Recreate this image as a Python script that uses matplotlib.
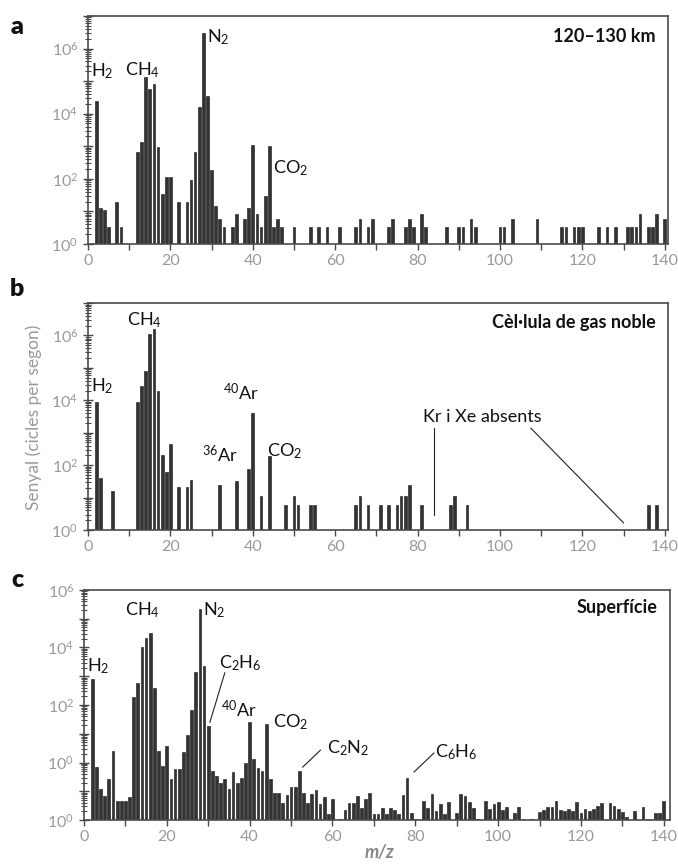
import matplotlib
matplotlib.use("Agg")
import matplotlib.pyplot as plt
from matplotlib.ticker import LogLocator, NullFormatter

plt.rcParams['font.family'] = ['Lato', 'DejaVu Sans']
plt.rcParams['mathtext.fontset'] = 'custom'
plt.rcParams['mathtext.rm'] = 'Lato'
plt.rcParams['mathtext.it'] = 'Lato:italic'
plt.rcParams['mathtext.bf'] = 'Lato:bold'

# panel a: 120-130 km
a_mz = [2, 3, 4, 5, 7, 8, 12, 13, 14, 15, 16, 17, 18, 19, 20, 22, 24, 25, 26, 27, 28, 29, 30,
        31, 32, 33, 35, 36, 38, 39, 40, 41, 42, 43, 44, 45, 46, 47, 50, 54, 56, 58,
        61, 65, 66, 68, 69, 73, 74, 77, 78, 79, 81, 82, 87, 90, 91, 93, 94, 100, 101, 103,
        109, 115, 116, 118, 119, 120, 124, 126, 128, 131, 132, 133, 134, 136, 137, 138, 140]
a_val = [2.5e4, 12, 10, 2.3, 19, 2.3, 650, 1350, 1.3e5, 5.8e4, 8.3e4, 950, 33, 112, 112, 19, 19, 89, 680,
         1.6e4, 3.1e6, 3.4e4, 190, 14, 4.9, 2.4, 2.4, 7.4, 4.9, 12, 1070, 7.4, 2.4, 29, 1000, 2.4, 4.9, 2.4,
         2.4, 2.4, 2.4, 2.4,
         2.3, 2.3, 4.9, 2.3, 4.9, 2.3, 4.9, 2.3, 4.9, 2.3, 7.4, 2.3, 2.3, 2.3, 2.3, 4.9, 2.3, 2.3, 2.3, 4.9,
         4.9, 2.3, 2.3, 2.3, 2.3, 2.3, 2.3, 2.3, 2.3, 2.3, 2.3, 2.3, 7.4, 2.3, 2.3, 7.4, 4.9]

# panel b: noble gas cell
b_mz = [2, 3, 6, 12, 13, 14, 15, 16, 17, 18, 19, 20, 22, 24, 25, 32, 36, 39, 40, 42, 44, 48, 50, 51,
        54, 55, 65, 66, 68, 71, 73, 75, 76, 77, 78, 81, 88, 89, 92, 136, 138]
b_val = [8900, 39, 15, 8900, 2.7e4, 8.1e4, 1.1e6, 1.6e6, 2e4, 210, 62, 440, 20, 20, 35, 24, 31, 74, 4100,
         10, 190, 5, 10, 5, 5, 5, 5, 10, 5, 5, 5, 5, 10, 10, 24, 5, 5, 10, 5, 5, 5]

# panel c: surface
c_mz = list(range(2, 61)) + [62, 63, 64, 65, 66, 67, 68, 69, 70, 71, 72, 73, 74, 75, 76, 77, 78, 79, 80,
                             82, 83, 84, 85, 86, 87, 88, 90, 91, 92, 93, 94, 95, 97, 98, 99, 100, 101,
                             102, 104, 105, 106, 108, 110, 111, 112, 113, 114, 115, 116, 117, 118, 119,
                             120, 121, 122, 123, 124, 125, 127, 128, 129, 130, 131, 133, 135, 136, 138,
                             139, 140]
c_val = [800, 0.7, 0.12, 0.068, 0.26, 2.6, 0.047, 0.047, 0.047, 0.065, 195, 560, 1e4, 2.2e4, 3.1e4, 380,
         2.6, 0.78, 3.8, 0.26, 0.58, 0.58, 2.3, 9, 68, 1450, 2.1e5, 2350, 18, 0.5, 0.33, 0.19, 0.26, 0.12,
         0.45, 0.2, 0.28, 0.95, 26, 1.28, 0.66, 0.52, 22, 0.26, 0.09, 0.09, 0.04, 0.077, 0.14, 0.14, 0.5,
         0.09, 0.04, 0.083, 0.115, 0.037, 0.064, 0.016, 0.052,
         0.011, 0.022, 0.038, 0.038, 0.068, 0.027, 0.052, 0.09, 0.016, 0.016, 0.027, 0.016, 0.027, 0.022,
         0.016, 0.074, 0.3, 0.017, 0.011,
         0.047, 0.027, 0.078, 0.021, 0.035, 0.016, 0.043, 0.017, 0.08, 0.068, 0.042, 0.027, 0.011, 0.047,
         0.025, 0.035, 0.044, 0.022, 0.028, 0.017, 0.028, 0.011, 0.0105, 0.019, 0.022, 0.028, 0.028,
         0.047, 0.022, 0.021, 0.025, 0.021, 0.044, 0.017, 0.025, 0.021, 0.025, 0.031, 0.038, 0.038,
         0.031, 0.024, 0.019, 0.013, 0.021, 0.028, 0.011, 0.017, 0.017, 0.047]

xticks = [0, 20, 40, 60, 80, 100, 120, 140]

bar_col = '#333333'
spine_col = '#4a4a4a'
tick_col = '#9a9a9a'

fig = plt.figure(figsize=(6.78, 8.67), dpi=100)
axa = fig.add_axes([0.1298, 0.7186, 0.8555, 0.2630])
axb = fig.add_axes([0.1298, 0.3887, 0.8555, 0.2618])
axc = fig.add_axes([0.1239, 0.0542, 0.8643, 0.2653])


def style(ax, ylo, yhi, labels, xmax=140.8):
    ax.set_yscale('log')
    ax.set_xlim(0, xmax)
    ax.set_ylim(ylo, yhi)
    ax.set_xticks(xticks)
    ax.set_xticks(range(10, 140, 20), minor=True)
    ax.set_xticklabels([str(t) for t in xticks])
    decs = [10.0 ** e for e in range(len(labels) * 2)]
    ax.set_yticks([ylo * d for d in decs if ylo * d <= yhi * 1.01])
    ticks = ax.get_yticks()
    ax.set_yticklabels([labels[i // 2] if i % 2 == 0 else '' for i in range(len(ticks))])
    ax.yaxis.set_minor_locator(LogLocator(base=10, subs=range(2, 10), numticks=100))
    ax.yaxis.set_minor_formatter(NullFormatter())
    for s in ax.spines.values():
        s.set_color(spine_col)
        s.set_linewidth(1.2)
    ax.tick_params(axis='both', which='both', colors=spine_col, labelcolor=tick_col, labelsize=11.5)
    ax.tick_params(axis='y', which='major', direction='inout', length=7, width=1.0)
    ax.tick_params(axis='y', which='minor', direction='inout', length=4, width=0.8)
    ax.tick_params(axis='x', which='both', direction='out', length=4, width=1.0)


lab7 = [r'$\mathregular{10^0}$', r'$\mathregular{10^2}$', r'$\mathregular{10^4}$', r'$\mathregular{10^6}$']
labc = [r'$\mathregular{10^0}$', r'$\mathregular{10^0}$', r'$\mathregular{10^2}$',
        r'$\mathregular{10^4}$', r'$\mathregular{10^6}$']

bw = 0.66
axa.bar(a_mz, a_val, width=bw, bottom=1, color=bar_col, edgecolor='#111111', linewidth=0.4)
style(axa, 1, 1e7, lab7)
axb.bar(b_mz, b_val, width=bw, bottom=1, color=bar_col, edgecolor='#111111', linewidth=0.4)
style(axb, 1, 1e7, lab7)
axc.bar(c_mz, [v - 0.01 for v in c_val], width=bw, bottom=0.01, color=bar_col,
        edgecolor='#111111', linewidth=0.4)
style(axc, 1e-2, 1e6, labc, xmax=141.5)

fs = 13
tk = dict(fontsize=fs, ha='center', va='center', color='#111111')

# panel a labels
axa.text(3.4, 10 ** 5.32, r'H$_2$', **tk)
axa.text(13.1, 10 ** 5.35, r'CH$_4$', **tk)
axa.text(31.5, 10 ** 6.34, r'N$_2$', **tk)
axa.text(49.2, 10 ** 2.34, r'CO$_2$', **tk)
axa.text(0.979, 0.912, '120–130 km', transform=axa.transAxes, ha='right', va='center',
         fontsize=13, fontweight='bold', color='#111111')

# panel b labels
axb.text(3.4, 10 ** 4.43, r'H$_2$', **tk)
axb.text(13.8, 10 ** 6.46, r'CH$_4$', **tk)
axb.text(37.0, 10 ** 4.25, r'$^{40}$Ar', **tk)
axb.text(32.0, 10 ** 2.34, r'$^{36}$Ar', **tk)
axb.text(47.7, 10 ** 2.43, r'CO$_2$', **tk)
axb.text(95.6, 10 ** 3.48, 'Kr i Xe absents', **tk)
axb.plot([84, 84], [10 ** 3.14, 10 ** 0.46], color='#222222', lw=0.8)
axb.plot([107.5, 130], [10 ** 3.14, 10 ** 0.22], color='#222222', lw=0.8)
axb.text(0.979, 0.912, 'Cèl·lula de gas noble', transform=axb.transAxes, ha='right', va='center',
         fontsize=13, fontweight='bold', color='#111111')

# panel c labels
axc.text(3.4, 10 ** 3.36, r'H$_2$', **tk)
axc.text(14.0, 10 ** 5.3, r'CH$_4$', **tk)
axc.text(31.5, 10 ** 5.3, r'N$_2$', **tk)
axc.text(37.8, 10 ** 3.46, r'C$_2$H$_6$', **tk)
axc.plot([30.4, 34.0], [10 ** 1.4, 10 ** 3.12], color='#222222', lw=0.8)
axc.text(37.3, 10 ** 1.83, r'$^{40}$Ar', **tk)
axc.text(49.9, 10 ** 1.41, r'CO$_2$', **tk)
axc.text(63.9, 10 ** 0.5, r'C$_2$N$_2$', **tk)
axc.plot([52.8, 57.1], [10 ** -0.16, 10 ** 0.43], color='#222222', lw=0.8)
axc.text(90.0, 10 ** 0.37, r'C$_6$H$_6$', **tk)
axc.plot([79.7, 84.5], [10 ** -0.33, 10 ** 0.33], color='#222222', lw=0.8)
axc.text(0.979, 0.926, 'Superfície', transform=axc.transAxes, ha='right', va='center',
         fontsize=13, fontweight='bold', color='#111111')

# panel letters and axis titles
for lbl, y in [('a', 0.969), ('b', 0.667), ('c', 0.331)]:
    fig.text(0.025, y, lbl, fontsize=18, fontweight='heavy', ha='center', va='center', color='#111111')

fig.text(0.049, 0.519, 'Senyal (cicles per segon)', rotation=90, ha='center', va='center',
         fontsize=12.5, color=tick_col)
fig.text(0.56, 0.0173, 'm/z', ha='center', va='center', fontsize=13, fontweight='bold',
         fontstyle='italic', color='#888888')

fig.savefig('out.png', dpi=100)
